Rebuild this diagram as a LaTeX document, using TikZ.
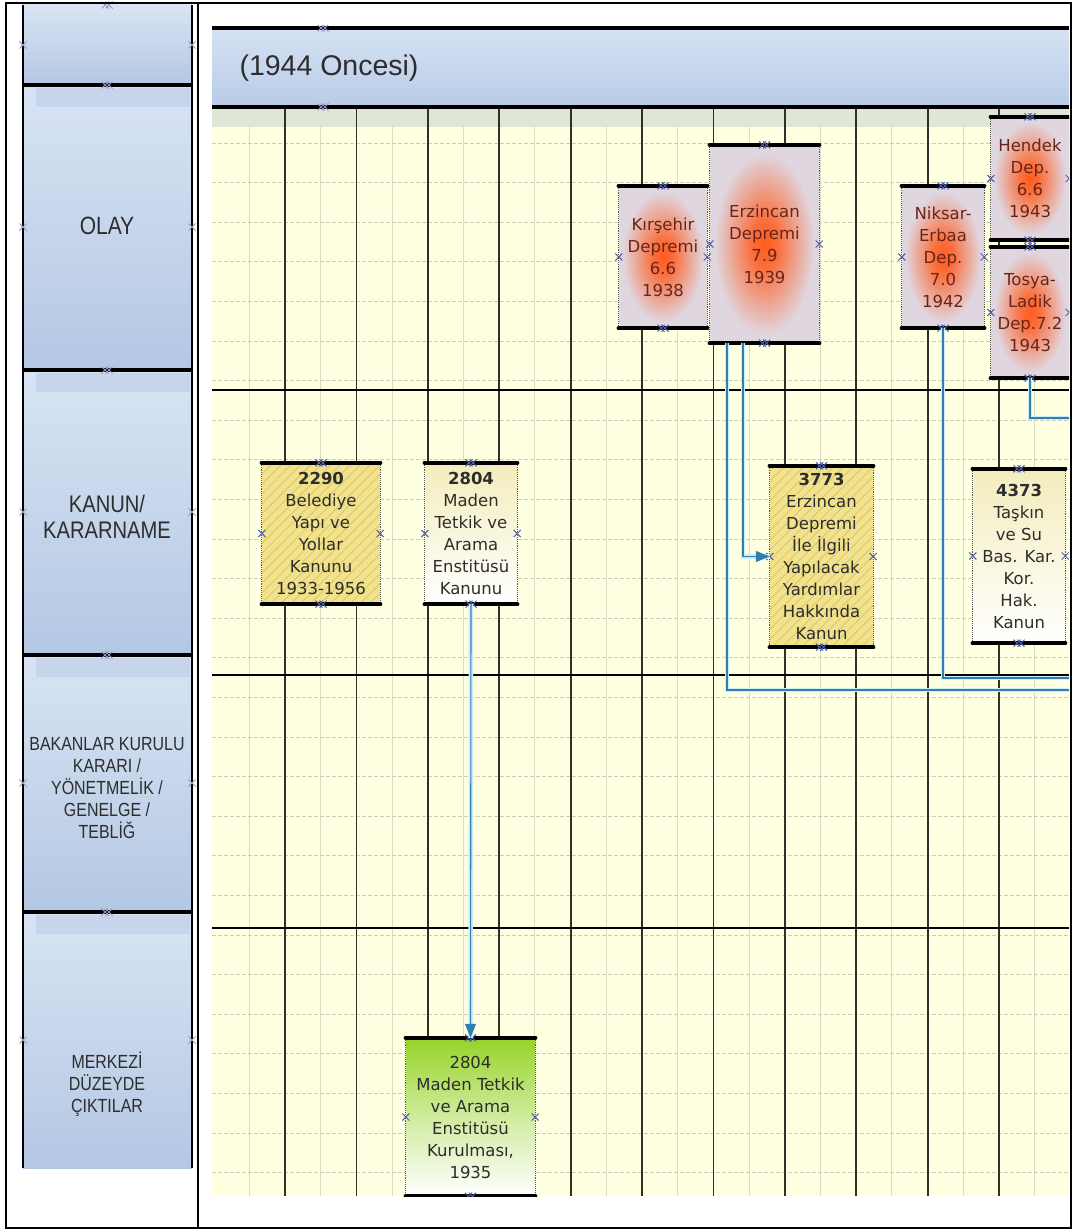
\documentclass[tikz,border=0pt]{standalone}
\usepackage{fontspec}
\setmainfont{Liberation Sans}
\newfontfamily\boxfont{DejaVu Sans}
\usetikzlibrary{arrows.meta,patterns.meta}
\definecolor{lanetop}{RGB}{216,228,243}
\definecolor{lanebot}{RGB}{180,199,227}
\definecolor{headtop}{RGB}{214,226,243}
\definecolor{headbot}{RGB}{184,203,231}
\definecolor{gridbg}{RGB}{255,255,225}
\definecolor{gridband}{RGB}{224,230,214}
\definecolor{minorln}{RGB}{205,205,185}
\definecolor{majorln}{RGB}{48,48,38}
\definecolor{quakegray}{RGB}{224,214,224}
\definecolor{quakehot}{RGB}{255,92,30}
\definecolor{quakeink}{RGB}{105,36,26}
\definecolor{lawyellow}{RGB}{242,226,140}
\definecolor{lawhatch}{RGB}{218,200,112}
\definecolor{paletop}{RGB}{243,237,188}
\definecolor{greentop}{RGB}{150,212,40}
\definecolor{linkblue}{RGB}{45,128,178}
\definecolor{linkhalo}{RGB}{208,237,247}
\definecolor{cpblue}{RGB}{78,92,165}
\definecolor{cpfade}{RGB}{150,150,195}
\definecolor{ink}{RGB}{45,45,45}
\pgfdeclareradialshading{quakeglow}{\pgfpoint{0bp}{0bp}}{color(0bp)=(quakehot); color(6bp)=(quakehot!85!quakegray); color(23bp)=(quakegray); color(50bp)=(quakegray)}
\tikzset{
  cpx/.pic={\draw[line width=1pt] (-3.5,-3.5) -- (3.5,3.5) (-3.5,3.5) -- (3.5,-3.5);},
  cpxx/.pic={\draw[line width=1pt] (-5.5,-3.5) -- (1.5,3.5) (-5.5,3.5) -- (1.5,-3.5) (-1.5,-3.5) -- (5.5,3.5) (-1.5,3.5) -- (5.5,-3.5);}
}
\begin{document}
\begin{tikzpicture}[x=1pt,y=-1pt,
  lanetxt/.style={text=ink,align=center,xscale=.84,font=\fontsize{19}{22}\selectfont},
  evbox/.style={inner sep=0pt,align=center,font=\boxfont\fontsize{16.5}{22}\selectfont},
  quake/.style={evbox,shade,shading=quakeglow,text=quakeink},
  lawhatched/.style={evbox,fill=lawyellow,postaction={pattern={Lines[angle=45,distance=7pt,line width=.9pt]},pattern color=lawhatch},text=ink},
  lawpale/.style={evbox,top color=paletop,bottom color=white,text=ink},
  outbox/.style={evbox,top color=greentop,bottom color=white,middle color=greentop!45!white,text=ink},
  sidedot/.style={densely dotted,line width=.9pt,black!65},
  edgebar/.style={line width=4.5pt,line cap=round},
  conn/.style={draw=linkblue,line width=1.1pt,preaction={draw=linkhalo,line width=4.5pt,-},-{Triangle[length=14pt,width=11pt]}}]
  \useasboundingbox (0,0) rectangle (1074,1231);
  \fill[white] (0,0) rectangle (1074,1231);
  \foreach \ya/\yb in {5/85,85/370,370/655,655/912,912/1168}
    \fill[top color=lanetop,bottom color=lanebot] (23,\ya) rectangle (192,\yb);
  \foreach \ya in {85,370,655,912}
    \fill[lanebot!50!lanetop] (36,\ya+3) rectangle (190,\ya+22);
  \draw[line width=1.3pt] (23,5) -- (23,1168) (192,5) -- (192,1168);
  \foreach \y in {85,370,655,912} \draw[line width=4pt] (23,\y) -- (192,\y);
  \node[lanetxt,font=\fontsize{25}{26}\selectfont] (olay) at (107,226) {OLAY};
  \node[lanetxt,font=\fontsize{24}{26}\selectfont] (kanun) at (107,517) {KANUN/\\KARARNAME};
  \node[lanetxt] (bakan) at (107,788) {BAKANLAR KURULU\\KARARI /\\YÖNETMELİK /\\GENELGE /\\TEBLİĞ};
  \node[lanetxt] (merkez) at (107,1084) {MERKEZİ\\DÜZEYDE\\ÇIKTILAR};
  \foreach \y in {5,85,370,655,912} \pic[cpfade] at (107,\y) {cpxx};
  \foreach \y in {45,227,512,783,1040} {\pic[cpfade] at (23,\y) {cpx}; \pic[cpfade] at (192,\y) {cpx};}
  \begin{scope}
    \clip (212,26) rectangle (1069,1196);
    \fill[top color=headtop,bottom color=headbot] (212,28) rectangle (1069,107);
    \fill[gridbg] (212,107) rectangle (1069,1196);
    \fill[gridband] (212,109) rectangle (1069,127);
    \foreach \x in {0,...,11} \draw[minorln!70!gridbg,line width=1pt] (249.3+71.4*\x,127) -- (249.3+71.4*\x,1196);
    \foreach \y in {0,...,26} \draw[minorln,dash pattern=on 4pt off 2pt,line width=.7pt] (212,143+39.6*\y) -- (1069,143+39.6*\y);
    \foreach \x in {0,...,10} \draw[majorln,line width=1.8pt] (285+71.4*\x,107) -- (285+71.4*\x,1196);
    \foreach \y in {390,675,928} \draw[line width=1.4pt] (212,\y) -- (1069,\y);
    \draw[line width=4pt] (212,28) -- (1069,28) (212,107) -- (1069,107);
    \node[anchor=west,text=ink,font=\fontsize{28.5}{32}\selectfont] (period) at (236,68) {(1944 Oncesi)};
    \pic[cpfade] at (323,28) {cpxx}; \pic[cpfade] at (323,107) {cpxx};
    \node[quake,minimum width=88,minimum height=142] (qKir) at (663,257) {Kırşehir\\Depremi\\6.6\\1938};
    \node[quake,minimum width=109,minimum height=198] (qErz) at (764.5,244) {Erzincan\\Depremi\\7.9\\1939};
    \node[quake,minimum width=82,minimum height=142] (qNik) at (943,257) {Niksar-\\Erbaa\\Dep.\\7.0\\1942};
    \node[quake,minimum width=78,minimum height=123] (qHen) at (1030,178.5) {Hendek\\Dep.\\6.6\\1943};
    \node[quake,minimum width=78,minimum height=131] (qTos) at (1030,312.5) {Tosya-\\Ladik\\Dep.7.2\\1943};
    \node[lawhatched,minimum width=118,minimum height=141] (k2290) at (321,533.5) {\textbf{2290}\\Belediye\\Yapı ve\\Yollar\\Kanunu\\1933-1956};
    \node[lawpale,minimum width=92,minimum height=141] (k2804) at (471,533.5) {\textbf{2804}\\Maden\\Tetkik ve\\Arama\\Enstitüsü\\Kanunu};
    \node[lawhatched,minimum width=103,minimum height=181] (k3773) at (821.5,556.5) {\textbf{3773}\\Erzincan\\Depremi\\İle İlgili\\Yapılacak\\Yardımlar\\Hakkında\\Kanun};
    \node[lawpale,minimum width=92,minimum height=174] (k4373) at (1019,556) {\textbf{4373}\\Taşkın\\ve Su\\Bas. Kar.\\Kor.\\Hak.\\Kanun};
    \node[outbox,minimum width=129,minimum height=158] (m2804) at (470.5,1117) {2804\\Maden Tetkik\\ve Arama\\Enstitüsü\\Kurulması,\\1935};
    \foreach \n in {qKir,qErz,qNik,qHen,qTos,k2290,k2804,k3773,k4373,m2804} {
      \draw[sidedot] (\n.north west) -- (\n.south west) (\n.north east) -- (\n.south east);
      \draw[edgebar] (\n.north west) -- (\n.north east) (\n.south west) -- (\n.south east);
      \pic[cpblue] at (\n.west) {cpx}; \pic[cpblue] at (\n.east) {cpx};
      \pic[cpblue] at (\n.north) {cpxx}; \pic[cpblue] at (\n.south) {cpxx};
    }
    \coordinate (offErz) at (1069,690);
    \coordinate (offNik) at (1069,678);
    \coordinate (offTos) at (1069,418);
    \draw[conn,-] ([xshift=-37.5pt]qErz.south) |- (offErz);
    \draw[conn,-] (qNik.south) |- (offNik);
    \draw[conn,-] (qTos.south) |- (offTos);
    \draw[conn] ([xshift=-21.5pt]qErz.south) |- (k3773.west);
    \draw[conn] (k2804.south) -- (m2804.north);
  \end{scope}
  \draw[line width=1.3pt] (6,3) rectangle (1071,1228);
  \draw[line width=1.3pt] (198,3) -- (198,1228);
\end{tikzpicture}
\end{document}
